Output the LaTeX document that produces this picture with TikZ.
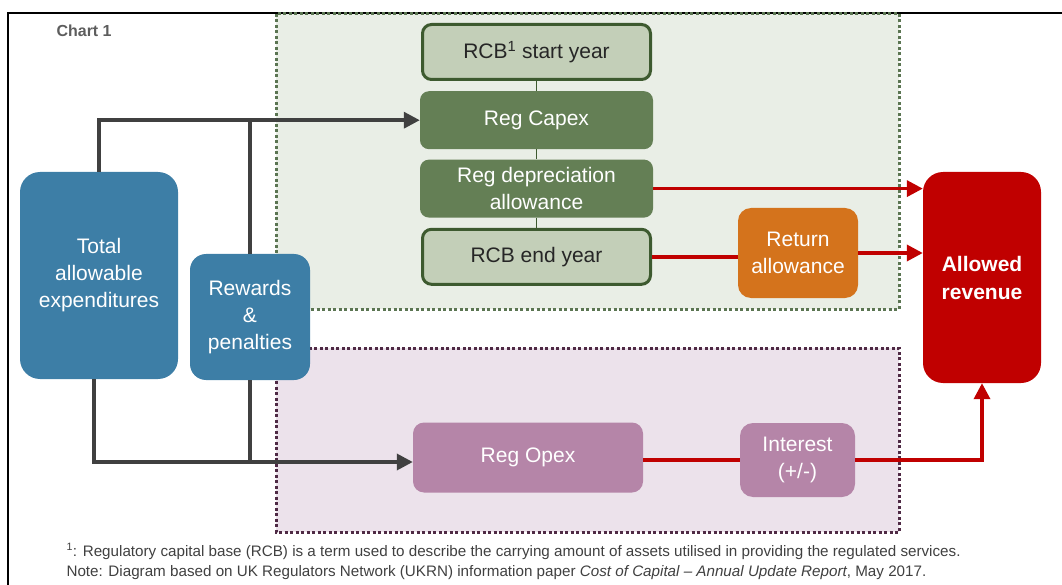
\documentclass[tikz,border=0pt]{standalone}
\usepackage{fontspec}
\setmainfont{Liberation Sans}
\usetikzlibrary{positioning,arrows.meta}

\definecolor{lightgreen}{HTML}{C3CFB8}
\definecolor{darkgreen}{HTML}{647F55}
\definecolor{greenedge}{HTML}{3D5A2F}
\definecolor{zonegreen}{HTML}{E9EEE6}
\definecolor{zonegreenedge}{HTML}{5B7552}
\definecolor{zonepurple}{HTML}{ECE2EB}
\definecolor{zonepurpleedge}{HTML}{4F2A45}
\definecolor{boxblue}{HTML}{3D7EA6}
\definecolor{boxorange}{HTML}{D4731C}
\definecolor{boxred}{HTML}{C00000}
\definecolor{boxpurple}{HTML}{B585A8}
\definecolor{arrowgray}{HTML}{404040}
\definecolor{darktext}{HTML}{262626}

\tikzstyle{light stage}=[
    draw = greenedge,
    line width = 3pt,
    fill = lightgreen,
    rounded corners = 9pt,
    minimum width = 228pt,
    minimum height = 55pt,
    text = darktext
]
\tikzstyle{dark stage}=[
    fill = darkgreen,
    rounded corners = 9pt,
    minimum width = 233pt,
    minimum height = 58pt,
    text = white
]

\begin{document}
\begin{tikzpicture}[x=1pt, y=-1pt, node distance=10pt,
    every node/.style = {font=\fontsize{21}{27}\selectfont, align=center},
    flow/.style = {draw=arrowgray, line width=3.5pt, -{Triangle[length=16pt,width=16pt]}},
    redflow/.style = {draw=boxred, line width=3.5pt, -{Triangle[length=16pt,width=16pt]}},
    link/.style = {draw=greenedge, line width=1.5pt},
    solid box/.style = {rounded corners=#1, text=white}]
        \useasboundingbox (0,0) rectangle (1062,585);

        % frame
        \draw[line width=2pt] (8,585) -- (8,13) -- (1062,13);
        \node[font=\fontsize{16}{18}\selectfont\bfseries, text=arrowgray!85, anchor=west] (chart) at (53,31) {Chart 1};

        % zones
        \draw[fill=zonegreen, draw=zonegreenedge, line width=3pt, dash pattern=on 3pt off 2.5pt] (276,14) rectangle (899,309);
        \draw[fill=zonepurple, draw=zonepurpleedge, line width=3pt, dash pattern=on 3pt off 2.5pt] (276,348) rectangle (899,532);

        % RCB stack
        \node[light stage] (start) at (536.5,52) {RCB\textsuperscript{1} start year};
        \node[dark stage] (capex) [below = of start] {Reg Capex};
        \node[dark stage] (dep) [below = of capex] {Reg depreciation\\allowance};
        \node[light stage] (endyr) [below = of dep] {RCB end year};

        \draw[link] (start) -- (capex);
        \draw[link] (capex) -- (dep);
        \draw[link] (dep) -- (endyr);

        \node[solid box=20pt, fill=boxblue, minimum width=158pt, minimum height=207pt] (total) at (99,275.5) {Total\\allowable\\expenditures};
        \node[solid box=16pt, fill=boxblue, minimum width=120pt, minimum height=126pt] (rewards) at (250,317) {Rewards\\\&\\penalties};
        \node[solid box=13pt, fill=boxorange, minimum width=120pt, minimum height=90pt] (ret) at (798,253) {Return\\allowance};
        \node[solid box=20pt, fill=boxred, minimum width=118pt, minimum height=211pt, font=\fontsize{21}{28}\selectfont\bfseries] (allowed) at (982,277.5) {Allowed\\revenue};
        \node[solid box=11pt, fill=boxpurple, minimum width=230pt, minimum height=70pt] (opex) at (528,457.5) {Reg Opex};
        \node[solid box=13pt, fill=boxpurple, minimum width=115pt, minimum height=74pt] (interest) at (797.5,460) {Interest\\(+/-)};
        \coordinate (opexin) at ([yshift=-4.5pt]opex.west);
        \coordinate (totalout) at ([xshift=-5pt]total.south);

        % inputs
        \draw[flow] (total.north) |- (capex.west);
        \draw[draw=arrowgray, line width=3.5pt] (rewards.north) -- (rewards.north |- capex.west);
        \draw[flow] (totalout) |- (opexin);
        \draw[draw=arrowgray, line width=3.5pt] (rewards.south) -- (rewards.south |- opexin);

        % outputs
        \draw[redflow] (dep.east) -- (dep.east -| allowed.west);
        \draw[draw=boxred, line width=3.5pt] (endyr.east) -- (endyr.east -| ret.west);
        \draw[redflow] (ret.east) -- (ret.east -| allowed.west);
        \draw[draw=boxred, line width=3.5pt] (opex.east |- interest.west) -- (interest.west);
        \draw[redflow] (interest.east) -| (allowed.south);

        % notes
        \node[font=\fontsize{15.2}{20}\selectfont, text=arrowgray, align=left, anchor=north west] (notes) at (63,540)
            {\textsuperscript{1}: Regulatory capital base (RCB) is a term used to describe the carrying amount of assets utilised in providing the regulated services.\\
             Note: Diagram based on UK Regulators Network (UKRN) information paper \textit{Cost of Capital – Annual Update Report}, May 2017.};

    \end{tikzpicture}
\end{document}
